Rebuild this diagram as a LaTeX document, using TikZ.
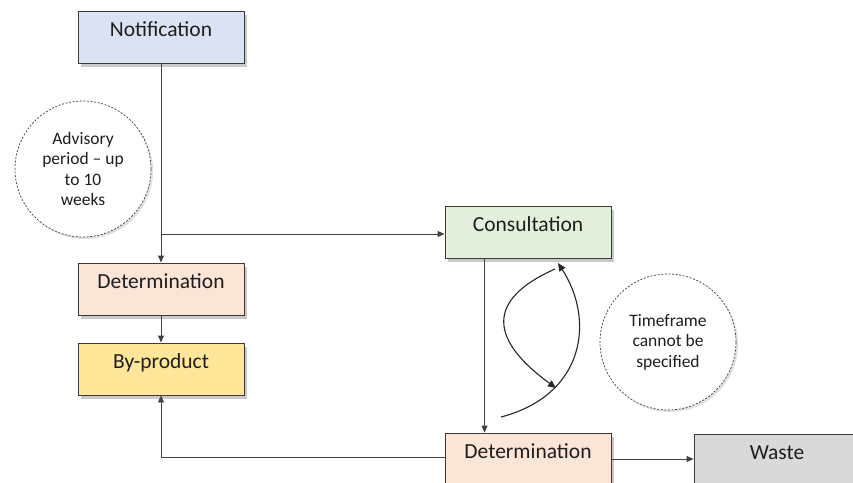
\documentclass[tikz,border=0pt]{standalone}
\usepackage{fontspec}
\setmainfont{Carlito}
\usetikzlibrary{shadows,arrows.meta}
\definecolor{bxline}{HTML}{3A3A3A}
\definecolor{cnline}{HTML}{404040}
\definecolor{txt}{HTML}{1E1E1E}
\definecolor{fblue}{HTML}{DAE3F3}
\definecolor{fgreen}{HTML}{E2EFDA}
\definecolor{fpeach}{HTML}{FBE5D6}
\definecolor{fyellow}{HTML}{FFE699}
\definecolor{fgray}{HTML}{D9D9D9}
\tikzset{
  box/.style={draw=bxline, line width=0.9pt, minimum width=166pt, inner xsep=0pt, inner ysep=0pt,
    text height=25.5pt, text depth=26.5pt, text=txt,
    font=\fontsize{21.5}{25}\selectfont,
    drop shadow={shadow xshift=3pt, shadow yshift=-3.5pt, opacity=0.35, fill=black!60}},
  note/.style={circle, draw=cnline, dashed, dash pattern=on 2pt off 1.6pt, line width=0.7pt,
    fill=white, minimum size=136pt, inner sep=0pt, align=center, text=txt,
    font=\fontsize{17.5}{20.5}\selectfont,
    drop shadow={shadow xshift=2pt, shadow yshift=-2pt, opacity=0.12, fill=black}},
  conn/.style={draw=cnline, line width=0.9pt, -{Triangle[length=7pt,width=6pt]}},
  curv/.style={draw=black!85, line width=1.1pt, -{Triangle[length=8pt,width=7pt]}}
}
\begin{document}
\begin{tikzpicture}[x=1pt,y=-1pt]
\useasboundingbox (0,0) rectangle (853,482);
\fill[white] (0,0) rectangle (853,482);
\node[note] (adv) at (83,169) {Advisory\\period -- up\\to 10\\weeks};
\node[note] (tf) at (668,342) {Timeframe\\cannot be\\specified};
\node[box, fill=fblue] (notif) at (161,37) {Notification};
\node[box, fill=fpeach] (det1) at (161,289) {Determination};
\node[box, fill=fyellow] (byp) at (161,369) {By-product};
\node[box, fill=fgreen] (cons) at (528,232) {Consultation};
\node[box, fill=fpeach] (det2) at (528,459) {Determination};
\node[box, fill=fgray] (waste) at (777,460) {Waste};
\coordinate (j) at (161,234);
\draw[conn] (notif.south) -- (det1.north);
\draw[conn] (j) -- (j -| cons.west);
\draw[conn] (det1.south) -- (byp.north);
\draw[conn] ([xshift=40pt]cons.south west) -- ([xshift=40pt]det2.north west);
\draw[conn] (det2.east) -- (det2.east -| waste.west);
\draw[conn] ([yshift=2pt]det2.west) -| (byp.south);
\draw[curv] (555,269) .. controls (485,300) and (490,340) .. (556,388);
\draw[curv] (501,417) .. controls (585,395) and (595,320) .. (558,263);
\end{tikzpicture}
\end{document}
